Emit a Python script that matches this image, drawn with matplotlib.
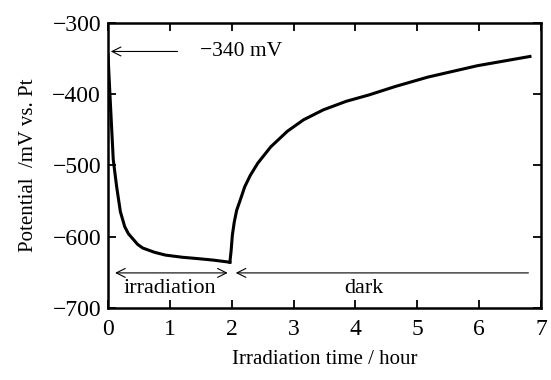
import matplotlib
matplotlib.use("Agg")
import matplotlib.pyplot as plt

# potential during irradiation (0-2 h) and in the dark afterwards
t_irr = [0, 0.03, 0.085, 0.14, 0.2, 0.27, 0.33, 0.4, 0.48, 0.56, 0.75, 0.93, 1.2, 1.46, 1.7, 1.97]
v_irr = [-345, -398, -492, -530, -565, -586, -596, -603, -611, -616, -622, -626, -629, -631, -633, -636]
t_dark = [1.97, 1.99, 2.01, 2.04, 2.08, 2.14, 2.21, 2.3, 2.42, 2.63, 2.9, 3.16, 3.48,
          3.85, 4.22, 4.65, 5.17, 5.97, 6.82]
v_dark = [-636, -620, -598, -580, -563, -548, -530, -514, -497, -474, -452, -436, -422,
          -410, -401, -389, -376, -360, -347]

start_mv = -340
arrow_y = -651

plt.rcParams['font.family'] = ['Liberation Serif', 'DejaVu Serif']

fig = plt.figure(figsize=(5.51, 3.80), dpi=100)
ax = fig.add_axes([0.196, 0.19, 0.786, 0.7495])

ax.plot(t_irr, v_irr, color='black', lw=2.2, solid_joinstyle='round')
ax.plot(t_dark, v_dark, color='black', lw=2.2, solid_joinstyle='round')

ax.set_xlim(0, 7)
ax.set_ylim(-700, -300)
ax.set_xticks(range(0, 8))
ax.set_yticks([-700, -600, -500, -400, -300])
ax.tick_params(direction='in', top=True, right=True, length=6, width=1.3,
               labelsize=17)
ax.tick_params(axis='x', pad=8)
ax.tick_params(axis='y', pad=5)
for s in ax.spines.values():
    s.set_linewidth(1.8)

ax.set_xlabel('Irradiation time / hour', fontsize=15, labelpad=7)
ax.set_ylabel('Potential  /mV vs. Pt', fontsize=15, labelpad=10)

# initial potential marker
ax.annotate('', xy=(0, start_mv), xytext=(1.17, start_mv),
            arrowprops=dict(arrowstyle='->', color='black', lw=0.8,
                            mutation_scale=16))
ax.text(1.48, start_mv, '\u2212340 mV', fontsize=15.5, va='center', ha='left')

# irradiation / dark spans
ax.annotate('', xy=(0.07, arrow_y), xytext=(1.98, arrow_y),
            arrowprops=dict(arrowstyle='<->', color='black', lw=0.8,
                            mutation_scale=16))
ax.annotate('', xy=(2.02, arrow_y), xytext=(6.84, arrow_y),
            arrowprops=dict(arrowstyle='->', color='black', lw=0.8,
                            mutation_scale=16))
ax.text(1.0, -673, 'irradiation', fontsize=16, ha='center', va='center')
ax.text(4.13, -673, 'dark', fontsize=16, ha='center', va='center')

fig.savefig('out.png', dpi=100)
